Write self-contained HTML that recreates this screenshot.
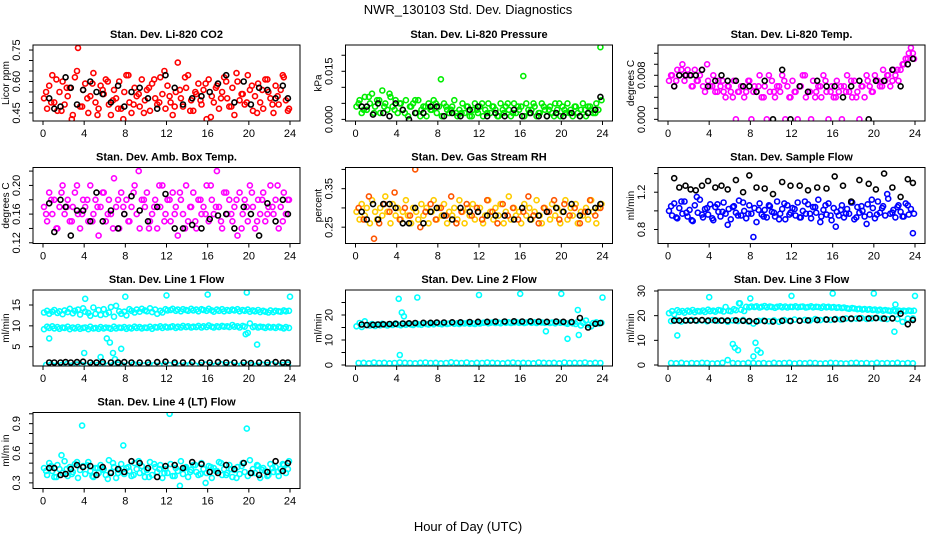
<!DOCTYPE html>
<html><head><meta charset="utf-8">
<style>
html,body{margin:0;padding:0;background:#fff;}
svg{display:block;}
text{font-family:"Liberation Sans",sans-serif;fill:#000;}
</style></head>
<body>
<svg id="chart" width="936" height="540" viewBox="0 0 936 540">
<text x="468" y="14" text-anchor="middle" font-size="13">NWR_130103  Std. Dev. Diagnostics</text>
<text x="468" y="531" text-anchor="middle" font-size="13">Hour of Day (UTC)</text>
</svg>
<script>
const hoursA=[0.1,0.4,0.6,0.9,1.1,1.4,1.6,1.9,2.1,2.4,2.6,2.9,3.1,3.4,3.6,3.9,4.1,4.4,4.6,4.9,5.1,5.4,5.6,5.9,6.1,6.4,6.6,6.9,7.1,7.4,7.6,7.9,8.1,8.4,8.6,8.9,9.1,9.4,9.6,9.9,10.1,10.4,10.6,10.9,11.1,11.4,11.6,11.9,12.1,12.4,12.6,12.9,13.1,13.4,13.6,13.9,14.1,14.4,14.6,14.9,15.1,15.4,15.6,15.9,16.1,16.4,16.6,16.9,17.1,17.4,17.6,17.9,18.1,18.4,18.6,18.9,19.1,19.4,19.6,19.9,20.1,20.4,20.6,20.9,21.1,21.4,21.6,21.9,22.1,22.4,22.6,22.9,23.1,23.4,23.6,23.9];
const hoursB=[0.3,0.8,1.3,1.8,2.3,2.8,3.3,3.8,4.3,4.8,5.3,5.8,6.3,6.8,7.3,7.8,8.3,8.8,9.3,9.8,10.3,10.8,11.3,11.8,12.3,12.8,13.3,13.8,14.3,14.8,15.3,15.8,16.3,16.8,17.3,17.8,18.3,18.8,19.3,19.8,20.3,20.8,21.3,21.8,22.3,22.8,23.3,23.8];
const hoursK=[0.6,1.1,1.7,2.2,2.7,3.3,3.9,4.6,5.2,5.8,6.6,7.3,7.9,8.6,9.4,10.2,11.1,11.9,12.8,13.6,14.5,15.4,16.2,17.0,17.8,18.6,19.5,20.2,21.0,21.8,22.6,23.3,23.8];
const xTicks=[0,4,8,12,16,20,24];

const co2A=[0.52,0.47,0.58,0.63,0.50,0.46,0.55,0.60,0.49,0.53,0.57,0.44,0.62,0.76,0.48,0.56,0.59,0.45,0.53,0.64,0.50,0.47,0.58,0.54,0.61,0.49,0.44,0.56,0.52,0.60,0.47,0.55,0.63,0.50,0.45,0.57,0.53,0.48,0.61,0.51,0.56,0.46,0.59,0.52,0.49,0.62,0.54,0.47,0.58,0.50,0.44,0.55,0.69,0.52,0.48,0.57,0.63,0.51,0.46,0.54,0.59,0.49,0.56,0.42,0.61,0.53,0.50,0.58,0.47,0.55,0.62,0.52,0.48,0.57,0.44,0.60,0.51,0.54,0.49,0.63,0.56,0.46,0.53,0.59,0.50,0.47,0.61,0.55,0.52,0.45,0.58,0.49,0.56,0.62,0.51,0.47];
const co2B=[0.55,0.50,0.61,0.46,0.57,0.42,0.65,0.48,0.52,0.59,0.44,0.56,0.60,0.51,0.47,0.42,0.63,0.49,0.54,0.45,0.57,0.61,0.50,0.65,0.53,0.48,0.56,0.62,0.46,0.55,0.51,0.59,0.43,0.57,0.52,0.60,0.48,0.64,0.54,0.50,0.58,0.45,0.56,0.61,0.49,0.53,0.63,0.46];
const co2K=[0.52,0.47,0.48,0.62,0.57,0.49,0.56,0.60,0.55,0.54,0.50,0.58,0.48,0.55,0.57,0.52,0.47,0.63,0.57,0.49,0.52,0.53,0.55,0.59,0.63,0.50,0.60,0.49,0.57,0.56,0.52,0.58,0.52];

const presA=[0.004,0.006,0.002,0.007,0.003,0.005,0.008,0.004,0.006,0.002,0.009,0.005,0.003,0.007,0.004,0.006,0.002,0.005,0.003,0.006,0.001,0.004,0.005,0.002,0.006,0.003,0.004,0.001,0.005,0.003,0.006,0.002,0.004,0.001,0.005,0.003,0.002,0.004,0.006,0.001,0.003,0.005,0.002,0.004,0.001,0.003,0.005,0.002,0.004,0.001,0.003,0.005,0.002,0.004,0.003,0.001,0.005,0.002,0.004,0.003,0.001,0.005,0.002,0.003,0.004,0.001,0.005,0.002,0.003,0.004,0.001,0.002,0.005,0.003,0.001,0.004,0.002,0.005,0.003,0.001,0.004,0.002,0.005,0.003,0.001,0.004,0.002,0.003,0.005,0.001,0.004,0.003,0.002,0.005,0.003,0.006];
const presB=[0.005,0.003,0.007,0.002,0.006,0.004,0.008,0.003,0.005,0.002,0.004,0.006,0.001,0.004,0.003,0.005,0.0125,0.004,0.003,0.002,0.002,0.004,0.001,0.003,0.005,0.002,0.004,0.001,0.003,0.005,0.002,0.004,0.0135,0.003,0.005,0.002,0.004,0.003,0.001,0.005,0.003,0.002,0.004,0.001,0.003,0.004,0.002,0.0225];
const presK=[0.004,0.004,0.0015,0.005,0.002,0.001,0.005,0.003,0.0,0.002,0.002,0.004,0.004,0.001,0.002,0.001,0.003,0.004,0.001,0.002,0.001,0.003,0.001,0.002,0.001,0.001,0.002,0.001,0.002,0.001,0.002,0.003,0.007];

const tempA=[0.007,0.008,0.006,0.009,0.008,0.010,0.007,0.009,0.008,0.006,0.009,0.007,0.008,0.006,0.005,0.007,0.006,0.008,0.005,0.007,0.006,0.005,0.004,0.006,0.005,0.007,0.0,0.005,0.006,0.004,0.005,0.007,0.0,0.006,0.005,0.008,0.004,0.006,0.0,0.005,0.007,0.004,0.006,0.005,0.008,0.0,0.006,0.004,0.007,0.005,0.0,0.006,0.008,0.004,0.005,0.0,0.007,0.005,0.006,0.004,0.008,0.005,0.0,0.006,0.004,0.007,0.005,0.0,0.006,0.008,0.005,0.004,0.007,0.005,0.0,0.006,0.004,0.007,0.006,0.005,0.008,0.007,0.006,0.009,0.007,0.008,0.006,0.009,0.008,0.007,0.009,0.010,0.011,0.012,0.013,0.011];
const tempB=[0.008,0.007,0.009,0.008,0.006,0.007,0.009,0.010,0.006,0.005,0.007,0.006,0.004,0.005,0.006,0.007,0.005,0.006,0.004,0.008,0.005,0.006,0.007,0.004,0.005,0.006,0.008,0.005,0.004,0.006,0.007,0.005,0.004,0.006,0.005,0.007,0.004,0.006,0.008,0.005,0.007,0.006,0.008,0.007,0.009,0.010,0.011,0.012];
const tempK=[0.006,0.008,0.008,0.008,0.008,0.009,0.006,0.007,0.008,0.007,0.007,0.006,0.006,0.005,0.007,0.0,0.009,0.0,0.006,0.005,0.007,0.006,0.006,0.004,0.006,0.007,0.0,0.007,0.007,0.009,0.006,0.010,0.011];

const ambA=[0.17,0.15,0.19,0.16,0.18,0.14,0.17,0.20,0.16,0.18,0.15,0.17,0.19,0.16,0.14,0.18,0.17,0.15,0.20,0.16,0.18,0.13,0.17,0.19,0.15,0.18,0.16,0.21,0.17,0.14,0.19,0.16,0.18,0.15,0.17,0.20,0.16,0.14,0.18,0.17,0.19,0.15,0.16,0.18,0.14,0.17,0.20,0.16,0.18,0.15,0.19,0.17,0.13,0.18,0.16,0.20,0.15,0.17,0.19,0.14,0.18,0.16,0.17,0.20,0.15,0.18,0.16,0.22,0.17,0.14,0.19,0.16,0.18,0.15,0.17,0.13,0.19,0.16,0.18,0.15,0.20,0.17,0.14,0.18,0.16,0.19,0.15,0.17,0.20,0.16,0.18,0.14,0.17,0.19,0.16,0.18];
const ambB=[0.16,0.18,0.14,0.19,0.17,0.15,0.20,0.16,0.18,0.15,0.17,0.19,0.16,0.14,0.18,0.17,0.15,0.19,0.22,0.18,0.14,0.17,0.20,0.15,0.18,0.16,0.19,0.14,0.17,0.15,0.18,0.16,0.20,0.17,0.15,0.19,0.16,0.18,0.14,0.17,0.19,0.15,0.18,0.16,0.17,0.20,0.15,0.18];
const ambK=[0.175,0.135,0.18,0.17,0.13,0.165,0.165,0.15,0.19,0.15,0.165,0.14,0.16,0.185,0.165,0.15,0.17,0.188,0.14,0.14,0.145,0.14,0.153,0.158,0.16,0.14,0.17,0.16,0.13,0.175,0.15,0.18,0.16];

const rhA=[0.29,0.27,0.31,0.28,0.30,0.26,0.32,0.29,0.27,0.30,0.28,0.33,0.29,0.26,0.31,0.28,0.30,0.27,0.29,0.32,0.28,0.26,0.30,0.29,0.27,0.31,0.28,0.30,0.26,0.29,0.32,0.27,0.30,0.28,0.31,0.26,0.29,0.28,0.30,0.27,0.32,0.29,0.26,0.30,0.28,0.31,0.27,0.29,0.30,0.26,0.28,0.32,0.29,0.27,0.30,0.28,0.31,0.26,0.29,0.33,0.27,0.30,0.28,0.29,0.26,0.31,0.28,0.30,0.27,0.29,0.32,0.28,0.26,0.30,0.29,0.27,0.31,0.28,0.30,0.26,0.29,0.32,0.27,0.30,0.28,0.31,0.26,0.29,0.28,0.30,0.27,0.32,0.29,0.26,0.30,0.31];
const rhB=[0.30,0.27,0.33,0.22,0.26,0.31,0.29,0.34,0.27,0.30,0.28,0.40,0.25,0.29,0.31,0.27,0.30,0.28,0.33,0.26,0.29,0.31,0.28,0.30,0.27,0.32,0.29,0.26,0.31,0.28,0.30,0.27,0.29,0.33,0.28,0.26,0.30,0.29,0.32,0.27,0.31,0.28,0.30,0.26,0.29,0.32,0.28,0.30];
const rhK=[0.29,0.27,0.31,0.27,0.31,0.31,0.30,0.26,0.26,0.30,0.26,0.29,0.30,0.28,0.27,0.30,0.29,0.29,0.28,0.28,0.28,0.27,0.30,0.27,0.28,0.29,0.30,0.29,0.31,0.28,0.29,0.30,0.31];

const flowA=[1.00,0.95,1.08,0.92,1.03,0.97,1.10,0.94,1.01,0.89,1.06,0.98,1.12,0.93,1.02,0.96,1.07,0.90,1.04,0.99,0.94,1.09,0.97,1.02,0.91,1.05,0.98,1.11,0.95,1.00,0.92,1.06,0.97,1.03,0.88,1.08,0.96,1.01,0.93,1.05,0.99,0.94,1.10,0.97,1.02,0.91,1.06,0.98,1.03,0.95,1.09,0.93,1.00,0.97,1.07,0.92,1.04,0.98,1.12,0.94,1.01,0.96,1.08,0.90,1.03,0.99,0.95,1.06,0.93,1.02,0.97,1.09,0.91,1.04,0.98,1.00,0.94,1.07,0.96,1.03,0.92,1.10,0.98,1.05,0.95,1.13,0.97,1.01,0.93,1.06,0.99,0.94,1.08,0.96,1.02,0.97];
const flowB=[1.05,0.93,1.10,0.98,0.90,1.15,0.96,1.03,0.92,1.07,0.99,0.85,1.04,0.95,1.09,0.97,0.72,1.01,0.94,1.06,0.98,0.91,1.08,0.96,1.02,0.93,1.10,0.97,1.04,0.88,1.06,0.95,0.83,1.01,0.97,1.09,0.93,1.05,0.86,1.12,0.96,1.03,1.18,0.98,1.04,0.94,1.06,0.76];
const flowK=[1.35,1.25,1.27,1.23,1.22,1.27,1.32,1.25,1.27,1.23,1.33,1.20,1.38,1.25,1.24,1.18,1.31,1.27,1.27,1.22,1.25,1.24,1.37,1.27,1.10,1.33,1.29,1.23,1.40,1.25,1.15,1.34,1.30];

const l1High=[13.2,13.6,12.9,13.4,13.8,13.1,13.5,12.8,13.7,13.3,14.1,13.0,13.6,13.9,12.7,14.2,13.4,13.1,12.4,14.4,12.9,13.8,12.6,14.0,12.8,13.2,14.5,12.2,14.8,13.5,12.9,13.4,12.5,14.0,13.6,13.2,13.9,13.4,14.1,13.7,13.5,14.2,13.3,13.9,12.9,13.6,13.2,14.0,13.7,13.8,14.1,13.6,13.9,13.5,14.0,13.8,13.6,14.1,13.7,13.9,13.5,14.0,13.8,13.6,14.1,13.7,13.4,13.9,13.6,14.0,13.5,13.8,13.6,13.9,13.7,14.0,13.5,13.8,13.6,13.9,13.4,13.7,13.5,13.8,13.3,13.6,13.4,13.2,13.7,13.3,13.6,13.5,13.4,13.7,13.5,13.6];
const l1Mid=[9.2,9.8,9.5,9.9,9.4,9.7,9.3,9.6,9.5,9.8,9.2,9.6,9.4,9.7,9.3,9.5,9.6,9.2,9.8,9.4,9.5,9.3,9.7,9.4,9.6,9.5,9.3,9.8,9.4,9.6,9.5,9.7,9.3,9.6,9.4,9.8,9.5,9.7,9.4,9.6,9.5,9.8,9.3,9.7,9.6,9.9,9.5,9.8,9.6,9.7,9.9,9.5,9.8,9.6,10.0,9.7,9.9,9.6,9.8,9.7,10.0,9.6,9.9,9.7,10.1,9.8,9.6,9.9,9.7,10.0,9.8,9.9,9.7,10.2,9.8,9.9,9.6,10.0,9.8,8.3,10.6,9.7,9.9,9.6,9.8,9.7,9.5,9.8,9.6,9.7,9.5,9.8,9.6,9.4,9.7,9.5];
const l1Low=[0.6,0.7,0.5,0.6,0.8,0.5,0.7,0.6,0.5,0.7,0.6,0.8,0.5,0.6,0.7,0.5,0.6,0.8,0.6,0.5,0.7,0.6,0.5,0.7,0.6,0.8,0.5,0.6,0.7,0.5,0.6,0.7,0.6,0.5,0.8,0.6,0.7,0.5,0.6,0.7,0.6,0.5,0.7,0.6,0.8,0.5,0.6,0.7];
const l1K=[1.2,1.2,1.2,1.3,1.2,1.3,1.4,1.2,1.2,1.3,1.2,1.2,1.3,1.2,1.2,1.2,1.3,1.4,1.2,1.2,1.3,1.2,1.2,1.3,1.2,1.2,1.2,1.1,1.2,1.2,1.3,1.2,1.2];
const l1OutH=[0.6,4.0,4.1,5.6,6.2,6.5,6.8,7.0,7.6,8.0,12.0,16.0,19.8,19.7,20.8,24.0];
const l1OutV=[7.0,3.5,16.5,2.5,7.0,6.0,3.5,2.0,4.5,17.0,17.3,17.5,18.0,8.0,5.5,17.0];

const l2Main=[15.5,16.8,15.2,17.5,16.0,15.8,16.4,15.6,16.2,15.9,16.5,16.1,15.8,16.3,16.0,16.6,16.2,15.9,16.4,16.1,16.5,16.2,16.0,16.6,16.3,16.1,16.7,16.4,16.2,16.6,16.3,16.8,16.5,16.3,16.7,16.4,16.6,16.9,16.5,16.7,16.4,16.8,16.6,16.9,16.5,16.7,16.4,16.8,16.6,16.9,17.0,16.7,16.9,17.1,16.8,17.0,16.7,17.2,16.9,17.1,16.8,17.0,17.2,16.9,17.1,16.8,17.0,17.3,16.9,17.1,16.8,17.2,17.0,16.9,17.1,16.8,17.0,16.7,17.2,16.9,17.1,16.8,16.5,17.0,16.7,16.4,17.3,15.8,16.9,17.8,16.2,15.5,16.8,17.1,16.6,16.9];
const l2Low=[0.8,0.9,0.7,1.0,0.8,0.9,0.7,0.8,1.0,0.9,0.8,0.7,0.9,1.0,0.8,0.9,0.7,0.8,1.1,0.9,0.8,1.0,0.7,0.9,0.8,1.0,0.9,0.8,0.7,0.9,1.0,0.8,0.9,0.8,0.7,1.0,0.9,0.8,0.9,0.7,1.0,0.8,0.9,0.8,1.0,0.7,0.9,0.8];
const l2K=[16.2,16.0,16.1,16.2,16.3,16.4,16.5,16.6,16.7,16.8,16.9,16.9,17.0,17.0,17.1,17.1,17.2,17.3,17.3,17.4,17.4,17.5,17.4,17.5,17.4,17.3,17.4,17.3,17.2,18.8,15.0,16.5,16.8];
const l2OutH=[4.2,4.3,4.5,4.7,6.0,12.0,16.0,20.0,18.5,20.6,21.6,21.7,24.0];
const l2OutV=[26.5,4.0,21.0,19.5,27.0,28.0,28.5,28.5,13.5,10.5,22.0,12.0,27.0];

const l3High=[21.0,21.8,20.5,22.2,21.5,21.9,21.2,22.0,21.6,22.3,21.4,21.9,21.7,22.1,21.5,22.4,21.8,22.0,21.6,22.3,22.1,21.7,23.5,22.0,21.8,22.6,22.2,25.0,22.4,21.9,23.6,23.4,23.7,23.5,23.8,23.3,23.6,23.9,23.4,23.7,23.5,23.2,23.6,23.8,23.4,23.7,23.3,23.6,23.5,23.8,23.4,23.6,23.7,23.3,23.5,23.8,23.4,23.6,23.5,23.2,23.7,23.4,23.6,23.3,23.5,23.2,23.4,23.1,23.3,23.0,22.8,23.1,22.9,22.6,22.8,22.5,22.7,22.4,22.6,22.3,22.5,22.1,22.4,22.0,22.3,22.1,21.9,22.2,21.8,22.1,21.9,22.0,21.8,22.1,21.9,22.0];
const l3Mid=[17.8,18.2,17.6,18.0,18.3,17.9,18.1,17.7,18.2,17.9,18.0,17.5,18.1,17.8,18.3,17.6,16.8,17.9,18.0,17.7,18.1,17.5,18.2,17.9,18.4,18.0,18.3,18.1,18.6,18.2,18.5,18.3,18.7,18.4,18.9,18.6,18.8,19.0,18.7,18.9,19.1,18.8,18.6,19.0,18.7,17.5,18.8,18.9];
const l3Low=[0.8,0.7,0.9,0.6,0.8,0.7,0.9,0.8,0.6,0.7,0.9,2.0,0.8,0.7,0.6,0.9,0.8,0.7,0.8,0.6,0.9,0.7,0.8,0.9,0.6,0.8,0.7,0.9,0.8,0.6,0.7,0.9,0.8,0.7,0.6,0.8,0.9,0.7,0.8,0.6,0.9,0.7,0.8,0.7,0.9,0.6,0.8,0.7];
const l3K=[18.0,18.0,18.1,18.0,18.1,18.2,18.0,18.1,18.0,18.0,18.1,17.9,17.8,17.7,17.8,17.6,17.9,17.8,17.9,18.1,18.2,18.4,18.5,18.6,18.8,18.9,18.9,19.0,18.8,18.9,20.8,16.5,18.3];
const l3OutH=[0.9,4.0,6.3,6.5,6.8,7.0,8.0,8.3,8.5,8.7,9.0,12.0,16.0,20.0,22.0,22.1,24.0];
const l3OutV=[12.0,27.5,8.5,7.0,6.0,25.0,27.0,3.5,9.0,6.0,5.0,28.0,29.0,29.0,13.5,24.5,28.0];

const l4A=[0.45,0.38,0.50,0.42,0.36,0.48,0.44,0.40,0.52,0.37,0.46,0.41,0.49,0.35,0.43,0.47,0.39,0.51,0.42,0.36,0.45,0.40,0.48,0.44,0.38,0.53,0.41,0.46,0.35,0.43,0.49,0.39,0.45,0.42,0.37,0.50,0.44,0.40,0.47,0.36,0.43,0.51,0.38,0.46,0.41,0.48,0.35,0.44,0.40,0.49,0.37,0.45,0.42,0.52,0.39,0.46,0.36,0.43,0.48,0.41,0.38,0.50,0.44,0.40,0.47,0.35,0.45,0.42,0.51,0.38,0.44,0.40,0.48,0.36,0.43,0.46,0.39,0.50,0.41,0.37,0.53,0.44,0.40,0.47,0.35,0.45,0.42,0.38,0.49,0.41,0.46,0.37,0.44,0.48,0.40,0.52];
const l4B=[0.42,0.47,0.36,0.58,0.44,0.39,0.51,0.88,0.48,0.37,0.45,0.43,0.34,0.50,0.40,0.68,0.46,0.38,0.52,0.42,0.36,0.49,0.44,0.40,1.00,0.37,0.27,0.45,0.41,0.48,0.39,0.30,0.46,0.42,0.50,0.38,0.44,0.35,0.47,0.85,0.40,0.48,0.43,0.37,0.45,0.41,0.49,0.44];
const l4K=[0.45,0.45,0.38,0.39,0.44,0.48,0.46,0.47,0.38,0.46,0.40,0.44,0.41,0.52,0.50,0.45,0.36,0.47,0.48,0.45,0.51,0.49,0.41,0.40,0.48,0.44,0.50,0.40,0.38,0.41,0.52,0.42,0.50];

const NS='http://www.w3.org/2000/svg';
const svg=document.getElementById('chart');
function mk(tag,attrs,parent){const e=document.createElementNS(NS,tag);for(const k in attrs)e.setAttribute(k,attrs[k]);(parent||svg).appendChild(e);return e;}

const panels=[
 {key:'co2',col:0,row:0,title:'Stan. Dev. Li-820 CO2',ylab:'Licor ppm',ymin:0.4115,ymax:0.774,ticks:[0.45,0.5,0.55,0.6,0.65,0.7,0.75],labels:[[0.45,'0.45'],[0.6,'0.60'],[0.75,'0.75']],
  series:[[hoursA,co2A,'#ff0000'],[hoursB,co2B,'#ff0000'],[hoursK,co2K,'#000000']]},
 {key:'pressure',col:1,row:0,title:'Stan. Dev. Li-820 Pressure',ylab:'kPa',ymin:-0.0005,ymax:0.0232,ticks:[0,0.005,0.01,0.015,0.02],labels:[[0,'0.000'],[0.015,'0.015']],
  series:[[hoursA,presA,'#00ee00'],[hoursB,presB,'#00ee00'],[hoursK,presK,'#000000']]},
 {key:'temp',col:2,row:0,title:'Stan. Dev. Li-820 Temp.',ylab:'degrees C',ymin:-0.0003,ymax:0.0135,ticks:[0,0.002,0.004,0.006,0.008,0.01,0.012],labels:[[0,'0.000'],[0.008,'0.008']],
  series:[[hoursA,tempA,'#ff00ff'],[hoursB,tempB,'#ff00ff'],[hoursK,tempK,'#000000']]},
 {key:'amb',col:0,row:1,title:'Stan. Dev. Amb. Box Temp.',ylab:'degrees C',ymin:0.119,ymax:0.225,ticks:[0.12,0.14,0.16,0.18,0.2,0.22],labels:[[0.12,'0.12'],[0.16,'0.16'],[0.2,'0.20']],
  series:[[hoursA,ambA,'#ff00ff'],[hoursB,ambB,'#ff00ff'],[hoursK,ambK,'#000000']]},
 {key:'rh',col:1,row:1,title:'Stan. Dev. Gas Stream RH',ylab:'percent',ymin:0.2076,ymax:0.405,ticks:[0.25,0.3,0.35,0.4],labels:[[0.25,'0.25'],[0.35,'0.35']],
  series:[[hoursA,rhA,'#ffcc00'],[hoursB,rhB,'#ff5500'],[hoursK,rhK,'#000000']]},
 {key:'sampleflow',col:2,row:1,title:'Stan. Dev. Sample Flow',ylab:'ml/min',ymin:0.65,ymax:1.465,ticks:[0.8,1.0,1.2,1.4],labels:[[0.8,'0.8'],[1.2,'1.2']],
  series:[[hoursA,flowA,'#0000ff'],[hoursB,flowB,'#0000ff'],[hoursK,flowK,'#000000']]},
 {key:'line1',col:0,row:2,title:'Stan. Dev. Line 1 Flow',ylab:'ml/min',ymin:0.37,ymax:18.6,ticks:[5,10,15],labels:[[5,'5'],[10,'10'],[15,'15']],
  series:[[hoursA,l1High,'#00ffff'],[hoursA,l1Mid,'#00ffff'],[hoursB,l1Low,'#00ffff'],[l1OutH,l1OutV,'#00ffff'],[hoursK,l1K,'#000000']]},
 {key:'line2',col:1,row:2,title:'Stan. Dev. Line 2 Flow',ylab:'ml/min',ymin:-0.4,ymax:30,ticks:[0,5,10,15,20,25],labels:[[0,'0'],[10,'10'],[20,'20']],
  series:[[hoursA,l2Main,'#00ffff'],[hoursB,l2Low,'#00ffff'],[l2OutH,l2OutV,'#00ffff'],[hoursK,l2K,'#000000']]},
 {key:'line3',col:2,row:2,title:'Stan. Dev. Line 3 Flow',ylab:'ml/min',ymin:-0.4,ymax:30.4,ticks:[0,10,20,30],labels:[[0,'0'],[10,'10'],[20,'20'],[30,'30']],
  series:[[hoursA,l3High,'#00ffff'],[hoursB,l3Mid,'#00ffff'],[hoursB,l3Low,'#00ffff'],[l3OutH,l3OutV,'#00ffff'],[hoursK,l3K,'#000000']]},
 {key:'line4',col:0,row:3,title:'Stan. Dev. Line 4 (LT) Flow',ylab:'ml/m in',ymin:0.243,ymax:1.013,ticks:[0.3,0.4,0.5,0.6,0.7,0.8,0.9,1.0],labels:[[0.3,'0.3'],[0.6,'0.6'],[0.9,'0.9']],
  series:[[hoursA,l4A,'#00ffff'],[hoursB,l4B,'#00ffff'],[hoursK,l4K,'#000000']]}
];

panels.forEach(p=>{
  const bx=33+p.col*312.5, by=45+p.row*122.5, bw=267, bh=76;
  const xs=h=>bx+10+h*(bw-20)/24;
  const ys=v=>by+bh-(v-p.ymin)/(p.ymax-p.ymin)*bh;
  const g=mk('g',{});
  
  
  const clip=mk('clipPath',{id:'clip-'+p.key},g);
  mk('rect',{x:bx,y:by,width:bw,height:bh},clip);
  const pts=mk('g',{'clip-path':'url(#clip-'+p.key+')'},g);
  
  
  p.series.forEach(s=>{
    const hs=s[0], vs=s[1], n=Math.min(hs.length,vs.length);
    for(let i=0;i<n;i++){
      const c=mk('circle',{cx:xs(hs[i]).toFixed(1),cy:ys(vs[i]).toFixed(1),r:2.5,fill:'none',stroke:s[2],'stroke-width':1.6},pts);
      
      
    }
  });
  const box=mk('rect',{x:bx,y:by,width:bw,height:bh,fill:'none',stroke:'#000','stroke-width':1},g);
  
  
  const t=mk('text',{x:bx+bw/2,y:by-7,'text-anchor':'middle','font-size':11,'font-weight':'bold'},g);
  t.textContent=p.title;
  
  
  // x axis (on frame)
  const axY=by+bh;
  xTicks.forEach(h=>{
    mk('line',{x1:xs(h),x2:xs(h),y1:axY,y2:axY+4,stroke:'#000'},g);
    const lt=mk('text',{x:xs(h),y:axY+16,'text-anchor':'middle','font-size':11},g);
    lt.textContent=h;
    
    
  });
  // y axis (on frame)
  const axX=bx;
  p.ticks.forEach(v=>mk('line',{x1:axX-4,x2:axX,y1:ys(v),y2:ys(v),stroke:'#000'},g));
  p.labels.forEach(l=>{
    const yy=ys(l[0]);
    const lx=axX-13;
    const lt=mk('text',{x:lx,y:yy,'text-anchor':'middle','font-size':11,transform:'rotate(-90 '+lx+' '+yy+')'},g);
    lt.textContent=l[1];
    
    
  });
  const tx=bx-24;
  const yl=mk('text',{x:tx,y:by+bh/2,'text-anchor':'middle','font-size':10,transform:'rotate(-90 '+tx+' '+(by+bh/2)+')'},g);
  yl.textContent=p.ylab;
  
  
});
</script>
</body></html>
